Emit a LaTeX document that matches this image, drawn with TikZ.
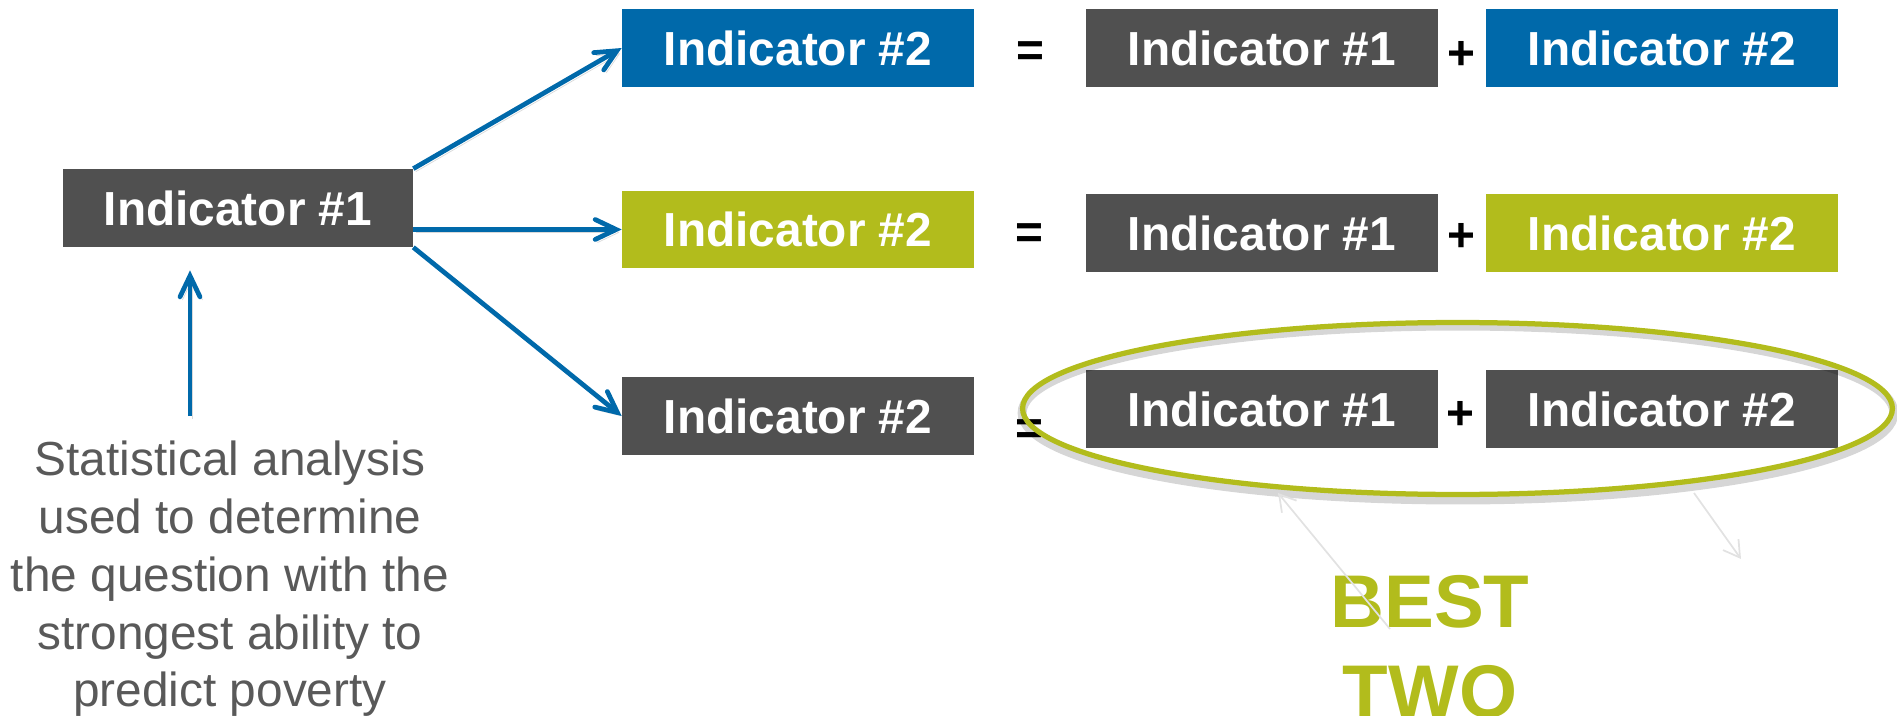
\documentclass[tikz,border=0pt]{standalone}
\usepackage{fontspec}
\setmainfont{Liberation Sans}
\usetikzlibrary{arrows.meta,calc}

\definecolor{ibblue}{HTML}{0069AA}
\definecolor{ibgrey}{HTML}{505050}
\definecolor{ibgreen}{HTML}{B2BC1C}
\definecolor{captiongrey}{HTML}{595959}
\definecolor{hintgrey}{HTML}{E2E2E2}

\begin{document}
\begin{tikzpicture}[x=0.02cm, y=-0.02cm,
  indbox/.style={minimum width=7.04cm, minimum height=1.56cm, inner sep=0pt,
    text=white, font=\fontsize{27.2pt}{32pt}\selectfont\bfseries},
  greybox/.style={indbox, fill=ibgrey},
  bluebox/.style={indbox, fill=ibblue},
  greenbox/.style={indbox, fill=ibgreen},
  opsign/.style={inner sep=0pt, font=\fontsize{27.2pt}{32pt}\selectfont\bfseries},
  flow/.style={draw=ibblue, line width=0.095cm,
    -{Straight Barb[length=0.42cm,width=0.4cm,line cap=round]},
    preaction={draw=black, opacity=0.15,
      transform canvas={shift={(0.05cm,-0.06cm)}}}},
  hint/.style={draw=hintgrey, line width=0.035cm,
    -{Straight Barb[length=0.32cm,width=0.38cm]}}
]
\useasboundingbox (0,0) rectangle (1897,716);

% source indicator
\node[greybox, minimum width=7.0cm] (ind1) at (238,208) {Indicator \#1};

% row 1
\node[bluebox]  (r1a) at (798,48)   {Indicator \#2};
\node[opsign]   (eq1) at (1030,54)  {=};
\node[greybox]  (r1b) at (1262,48)  {Indicator \#1};
\node[opsign]   (pl1) at (1461,55)  {+};
\node[bluebox]  (r1c) at (1662,48)  {Indicator \#2};

% row 2
\node[greenbox] (r2a) at (798,229.5) {Indicator \#2};
\node[opsign]   (eq2) at (1029,236)  {=};
\node[greybox]  (r2b) at (1262,233)  {Indicator \#1};
\node[opsign]   (pl2) at (1461,237)  {+};
\node[greenbox] (r2c) at (1662,233)  {Indicator \#2};

% row 3
\node[greybox]  (r3a) at (798,416)  {Indicator \#2};
\node[opsign]   (eq3) at (1029,432) {=};
\node[greybox]  (r3b) at (1262,409) {Indicator \#1};
\node[opsign]   (pl3) at (1460,415) {+};
\node[greybox]  (r3c) at (1662,409) {Indicator \#2};

% branches out of the first indicator
\draw[flow] (ind1.north east) -- (r1a.west);
\draw[flow] (ind1.east |- r2a.west) -- (r2a.west);
\draw[flow] (ind1.south east) -- (r3a.west);

% caption and its arrow
\node[text=captiongrey, align=center,
      font=\fontsize{27.2pt}{32.9pt}\selectfont] (stat) at (230,579)
  {Statistical analysis\\used to determine\\the question with the\\strongest ability to\\predict poverty};
\coordinate (statup) at (190,416);
\draw[flow] (statup) -- ($(statup |- ind1.south)+(0,23)$);

% highlight ring around the best pair
\draw[black, opacity=0.16, line width=0.18cm] (1458,413) ellipse [x radius=8.72cm, y radius=1.74cm];
\draw[ibgreen, line width=0.105cm] (1457.5,408.5) ellipse [x radius=8.70cm, y radius=1.72cm];

% label
\node[text=ibgreen, align=center,
      font=\fontsize{42.5pt}{51pt}\selectfont\bfseries] (best) at (1430,647) {BEST\\TWO};

% faint pointers
\coordinate (hintAs) at (1390,629);
\coordinate (hintAe) at (1278,493);
\coordinate (hintBs) at (1694,493);
\coordinate (hintBe) at (1741,559);
\draw[hint] (hintAs) -- (hintAe);
\draw[hint] (hintBs) -- (hintBe);
\end{tikzpicture}
\end{document}
